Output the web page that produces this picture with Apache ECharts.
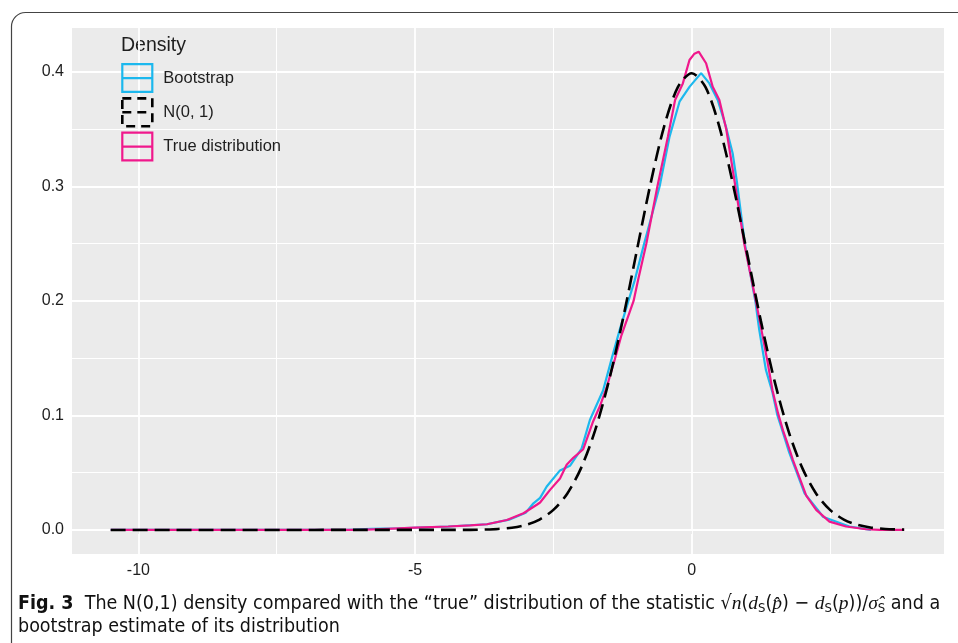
<!DOCTYPE html>
<html>
<head>
<meta charset="utf-8">
<script src="https://cdn.jsdelivr.net/npm/echarts@6/dist/echarts.min.js"></script>
<style>html,body{margin:0;padding:0;background:#fff;}#c{width:958px;height:643px;}</style>
</head>
<body>
<div id="c"></div>
<script>
// ---- data ----
const bootX = [-10.5,-6.2,-5.8,-5.3,-4.4,-3.7,-3.3,-3.0,-2.86,-2.74,-2.62,-2.38,-2.2,-1.99,-1.84,-1.6,-1.45,-1.3,-1.15,-1.03,-0.86,-0.58,-0.4,-0.22,-0.04,0.17,0.32,0.47,0.62,0.74,0.82,0.96,1.15,1.22,1.34,1.46,1.55,1.65,1.76,1.9,2.04,2.28,2.37,2.85,3.24];
const bootY = [0,0,0.001,0.0015,0.003,0.005,0.009,0.015,0.0233,0.028,0.038,0.052,0.056,0.071,0.096,0.122,0.149,0.175,0.199,0.218,0.25,0.3,0.3435,0.374,0.387,0.399,0.39,0.3755,0.352,0.329,0.303,0.25,0.2,0.175,0.14,0.12,0.1,0.085,0.068,0.05,0.032,0.0175,0.0116,0.003,0];
const trueX = [-10.5,-6.0,-5.5,-5.0,-4.4,-4.0,-3.7,-3.34,-3.04,-2.8,-2.74,-2.56,-2.38,-2.26,-2.14,-1.96,-1.78,-1.66,-1.54,-1.39,-1.27,-1.05,-0.97,-0.82,-0.62,-0.43,-0.3,-0.16,-0.04,0.05,0.126,0.26,0.38,0.5,0.625,0.79,0.95,1.16,1.26,1.37,1.46,1.56,1.65,1.77,1.83,1.92,2.07,2.25,2.49,2.79,3.15,3.4,3.84];
const trueY = [0,0,0.001,0.002,0.003,0.004,0.005,0.0087,0.0146,0.022,0.024,0.035,0.045,0.057,0.063,0.0705,0.095,0.108,0.124,0.149,0.17,0.2,0.218,0.25,0.3,0.3435,0.3755,0.39,0.4105,0.416,0.4177,0.4076,0.387,0.3755,0.35,0.3,0.25,0.2,0.175,0.147,0.122,0.102,0.087,0.07,0.061,0.0495,0.03,0.0175,0.0073,0.003,0.0006,0,0];
const normX = [-10.5,-4.0,-3.75,-3.5,-3.25,-3.0,-2.75,-2.5,-2.25,-2.0,-1.75,-1.5,-1.25,-1.0,-0.75,-0.5,-0.25,0,0.25,0.5,0.75,1.0,1.25,1.5,1.75,2.0,2.25,2.5,2.75,3.0,3.25,3.5,3.84];
const normY = [0,0.0001,0.0004,0.0009,0.002,0.0044,0.0091,0.0175,0.0317,0.054,0.0863,0.1295,0.1826,0.242,0.3011,0.3521,0.3867,0.3989,0.3867,0.3521,0.3011,0.242,0.1826,0.1295,0.0863,0.054,0.0317,0.0175,0.0091,0.0044,0.002,0.0009,0.0003];
const seriesNames = ['Bootstrap', 'N(0, 1)', 'True distribution'];
const legendTitle = 'Density';
const xTicks = [-10, -5, 0];
const xMinor = [-7.5, -2.5, 2.5];
const yTicks = [0, 0.1, 0.2, 0.3, 0.4];
const yMinor = [0.05, 0.15, 0.25, 0.35];

// ---- styles ----
const cBoot = '#1CB8EE';
const cTrue = '#F0188C';
const cNorm = '#000000';
const zip = (xs, ys) => xs.map((x, i) => [x, ys[i]]);

const gridLines = [];
xTicks.forEach(v => gridLines.push({xAxis: v, lineStyle: {width: 1.8}}));
xMinor.forEach(v => gridLines.push({xAxis: v, lineStyle: {width: 1}}));
yTicks.forEach(v => gridLines.push({yAxis: v, lineStyle: {width: 1.8}}));
yMinor.forEach(v => gridLines.push({yAxis: v, lineStyle: {width: 1}}));

const chart = echarts.init(document.getElementById('c'), null, {renderer: 'canvas'});
const axisFont = {fontFamily: "'Liberation Sans', Arial, sans-serif", fontSize: 16, color: '#1e1e1e'};
const cap = "'DejaVu Sans Condensed', 'Liberation Sans Narrow', sans-serif";
const mathF = "'Liberation Serif', 'DejaVu Serif', serif";

chart.setOption({
  animation: false,
  backgroundColor: '#ffffff',
  grid: {left: 72, top: 28, right: 14, bottom: 89, show: true, backgroundColor: '#EBEBEB', borderWidth: 0},
  xAxis: {
    type: 'value', min: -11.2, max: 4.56,
    axisLine: {show: false},
    splitLine: {show: false},
    axisTick: {show: true, length: 4, customValues: xTicks, lineStyle: {color: '#333', width: 1}},
    axisLabel: Object.assign({customValues: xTicks, margin: 9, formatter: v => String(v)}, axisFont)
  },
  yAxis: {
    type: 'value', min: -0.021, max: 0.4384,
    axisLine: {show: false},
    splitLine: {show: false},
    axisTick: {show: true, length: 4, customValues: yTicks, lineStyle: {color: '#333', width: 1}},
    axisLabel: Object.assign({customValues: yTicks, margin: 8, formatter: v => v.toFixed(1)}, axisFont)
  },
  legend: {
    orient: 'vertical', left: 121, top: 63, padding: 0, itemWidth: 30, itemHeight: 28, itemGap: 4,
    selectedMode: false,
    icon: 'path://M1,1H29V27H1Z M1,14H29',
    data: [
      {name: seriesNames[0], itemStyle: {color: 'transparent', borderColor: cBoot, borderWidth: 2.2}},
      {name: seriesNames[1], itemStyle: {color: 'transparent', borderColor: cNorm, borderWidth: 2.6, borderType: [9, 6]}},
      {name: seriesNames[2], itemStyle: {color: 'transparent', borderColor: cTrue, borderWidth: 2.2}}
    ],
    textStyle: {fontFamily: "'Liberation Sans', Arial, sans-serif", fontSize: 16.5, color: '#1e1e1e', padding: [0, 0, 0, 6]}
  },
  graphic: [
    {type: 'rect', silent: true, shape: {x: 11.5, y: 12.5, width: 1100, height: 800, r: 14},
     style: {fill: 'none', stroke: '#444', lineWidth: 1.2}},
    {type: 'text', left: 121, top: 36, style: {text: legendTitle, font: "19.5px 'Liberation Sans', Arial, sans-serif", fill: '#1e1e1e'}},
    {type: 'text', left: 18, top: 593, style: {
      text: '{b|Fig. 3}{t|  The N(0,1) density compared with the \u201Ctrue\u201D distribution of the statistic }{t|\u221A}{i|n}{t|(}{i|d}{s|S}{t|(}{i|p\u0302}{t|) \u2212 }{i|d}{s|S}{t|(}{i|p}{t|))/}{i|\u03C3\u0302}{s|S}{t| and a}\n{t|bootstrap estimate of its distribution}',
      rich: {
        b: {font: "bold 19.5px " + cap, fill: '#111', lineHeight: 23},
        t: {font: "19.5px " + cap, fill: '#111', lineHeight: 23},
        i: {font: "italic 19.5px " + mathF, fill: '#111', lineHeight: 23},
        s: {font: "13px " + cap, fill: '#111', lineHeight: 23, padding: [9, 0, 0, 0]}
      }
    }}
  ],
  series: [
    {name: seriesNames[0], type: 'line', data: zip(bootX, bootY), showSymbol: false, z: 2,
     lineStyle: {color: cBoot, width: 2.2}, itemStyle: {color: cBoot},
     markLine: {silent: true, z: 1, symbol: ['none', 'none'], label: {show: false},
       lineStyle: {color: '#ffffff', type: 'solid'}, emphasis: {disabled: true}, data: gridLines}},
    {name: seriesNames[2], type: 'line', data: zip(trueX, trueY), showSymbol: false, z: 3,
     lineStyle: {color: cTrue, width: 2.2}, itemStyle: {color: cTrue}},
    {name: seriesNames[1], type: 'line', data: zip(normX, normY), showSymbol: false, smooth: 0.3, z: 4,
     lineStyle: {color: cNorm, width: 2.6, type: [15, 7]}, itemStyle: {color: cNorm}}
  ]
});
</script>
</body>
</html>
